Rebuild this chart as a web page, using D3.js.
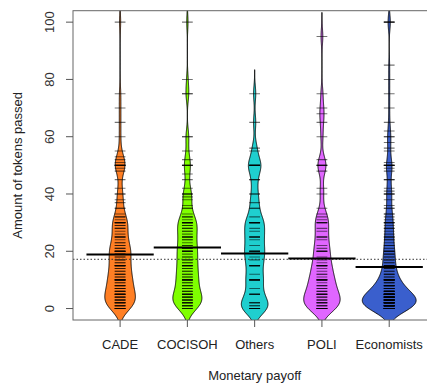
<!DOCTYPE html>
<html><head><meta charset="utf-8">
<script src="https://cdn.jsdelivr.net/npm/d3@7"></script>
<style>body{margin:0;background:#fff}svg{display:block;font-family:"Liberation Sans",Arial,sans-serif}</style>
</head><body><svg id="c" width="427" height="387"></svg>
<script>
const categories = ["CADE","COCISOH","Others","POLI","Economists"];
const colors = ["#FF7F24","#7FFF00","#1FCFCF","#E066FF","#3A5FCD"];
// [value, count] observations per group
const cade = [[0,5],[1,4],[2,5],[3,4],[4,3],[5,6],[6,3],[7,3],[8,3],[9,2],[10,6],[11,2],[12,3],[13,2],[14,2],[15,5],[16,2],[17,2],[18,2],[19,2],[20,6],[21,2],[22,2],[23,2],[24,1],[25,4],[26,1],[27,1],[28,2],[29,2],[30,4],[31,1],[32,2],[33,1],[35,2],[37,1],[38,1],[40,2],[42,1],[45,1],[48,1],[49,1],[50,4],[51,1],[52,1],[53,1],[55,1],[60,1],[65,1],[70,1],[75,1],[100,1]];
const cocisoh = [[0,3],[1,4],[2,5],[3,4],[4,3],[5,5],[6,2],[7,2],[8,2],[9,2],[10,5],[11,2],[12,2],[13,2],[14,2],[15,4],[16,2],[17,2],[18,2],[19,1],[20,5],[21,2],[22,2],[23,1],[24,2],[25,4],[26,1],[27,2],[28,2],[29,2],[30,5],[31,1],[32,2],[33,1],[35,2],[36,1],[38,1],[39,1],[40,3],[42,1],[45,1],[47,1],[50,3],[52,1],[55,1],[60,2],[75,2],[80,1],[100,1]];
const others = [[0,6],[1,2],[2,3],[5,4],[7,1],[10,5],[12,1],[15,4],[17,1],[18,1],[20,5],[22,1],[24,1],[25,4],[27,1],[28,1],[30,5],[32,1],[35,2],[37,1],[40,2],[45,2],[50,5],[55,1],[56,1],[65,1],[75,1]];
const poli = [[0,6],[1,3],[2,4],[3,3],[4,2],[5,5],[6,2],[7,2],[8,2],[9,1],[10,5],[11,1],[12,2],[13,1],[14,1],[15,4],[16,1],[17,1],[18,1],[20,4],[21,1],[22,1],[24,1],[25,3],[27,1],[28,1],[30,3],[31,1],[32,1],[33,1],[35,1],[40,1],[42,1],[48,1],[50,3],[52,1],[60,1],[65,1],[68,1],[70,1],[75,1],[95,1]];
const economists = [[0,18],[1,13],[2,14],[3,12],[4,10],[5,14],[6,6],[7,5],[8,5],[9,3],[10,8],[11,2],[12,3],[13,2],[14,2],[15,4],[16,2],[17,2],[18,2],[19,2],[20,4],[21,1],[22,2],[23,1],[24,2],[25,3],[26,1],[27,1],[28,2],[29,1],[30,3],[31,1],[32,1],[33,2],[35,2],[36,1],[38,1],[40,3],[41,1],[42,1],[45,2],[48,1],[49,1],[50,4],[51,1],[55,1],[56,1],[58,1],[60,2],[62,1],[65,1],[70,1],[75,1],[80,1],[85,1],[100,3]];
const groupMeans = [18.9, 21.3, 19.2, 17.5, 14.5];
const overallMean = 17.2;
const yTicks = [0,20,40,60,80,100];
const groups = [cade, cocisoh, others, poli, economists];

const svg = d3.select("#c");
const L=73, T=10.7, B=320, R=436.3;
const x = d3.scaleLinear().domain([0.3,5.7]).range([L,R]);
const y = d3.scaleLinear().domain([-4,104]).range([B,T]);
const bw = 2.8;

function kde(data){
  const n = d3.sum(data,d=>d[1]);
  const lo = d3.min(data,d=>d[0]) - 3*bw, hi = d3.max(data,d=>d[0]) + 3*bw;
  const pts = [];
  for(let v=lo; v<=hi+1e-9; v+=0.2){
    let s=0; for(const [val,c] of data){const z=(v-val)/bw; s+=c*Math.exp(-0.5*z*z);}
    pts.push([v, s/(n*bw*Math.sqrt(2*Math.PI))]);
  }
  return pts;
}
const dens = groups.map(kde);
const maxD = d3.max(dens, p=>d3.max(p,d=>d[1]));
const halfW = x(1.4)-x(1);

svg.append("clipPath").attr("id","pc").append("rect").attr("x",L).attr("y",T).attr("width",R-L).attr("height",B-T);
const g = svg.append("g").attr("clip-path","url(#pc)");

groups.forEach((data,i)=>{
  const cx = x(i+1);
  const p = dens[i];
  const w = d=>d[1]/maxD*halfW;
  const pts = p.map(d=>[cx - w(d), y(d[0])]).concat(p.slice().reverse().map(d=>[cx + w(d), y(d[0])]));
  g.append("path").attr("d", d3.line()(pts)+"Z").attr("fill",colors[i]).attr("stroke","#000").attr("stroke-width",0.9);
  const ll = (x(1.08)-x(1));
  data.forEach(([v,c])=>{
    for(let k=0;k<c;k++) g.append("line").attr("x1",cx-ll).attr("x2",cx+ll).attr("y1",y(v)).attr("y2",y(v)).attr("stroke","#000").attr("stroke-opacity",0.55).attr("stroke-width",1.1);
  });
});
// overall mean
g.append("line").attr("x1",L).attr("x2",R).attr("y1",y(overallMean)).attr("y2",y(overallMean)).attr("stroke","#333").attr("stroke-dasharray","1.5,2").attr("stroke-width",1);
groupMeans.forEach((m,i)=>{
  g.append("line").attr("x1",x(i+0.5)).attr("x2",x(i+1.5)).attr("y1",y(m)).attr("y2",y(m)).attr("stroke","#000").attr("stroke-width",2);
});
// box
svg.append("rect").attr("x",L).attr("y",T).attr("width",R-L).attr("height",B-T).attr("fill","none").attr("stroke","#666").attr("stroke-width",1);
// y axis
yTicks.forEach(t=>{
  svg.append("line").attr("x1",L-7).attr("x2",L).attr("y1",y(t)).attr("y2",y(t)).attr("stroke","#555");
  svg.append("text").attr("transform",`translate(54,${y(t)}) rotate(-90)`).attr("text-anchor","middle").attr("font-size",13).attr("fill","#333").text(t);
});
categories.forEach((c,i)=>{
  svg.append("line").attr("x1",x(i+1)).attr("x2",x(i+1)).attr("y1",B).attr("y2",B+7).attr("stroke","#555");
  svg.append("text").attr("x",x(i+1)).attr("y",349).attr("text-anchor","middle").attr("font-size",13).attr("fill","#222").text(c);
});
svg.append("text").attr("x",(L+R)/2).attr("y",380).attr("text-anchor","middle").attr("font-size",13).attr("fill","#222").text("Monetary payoff");
svg.append("text").attr("transform",`translate(22,${(T+B)/2}) rotate(-90)`).attr("text-anchor","middle").attr("font-size",13).attr("fill","#222").text("Amount of tokens passed");
</script></body></html>
